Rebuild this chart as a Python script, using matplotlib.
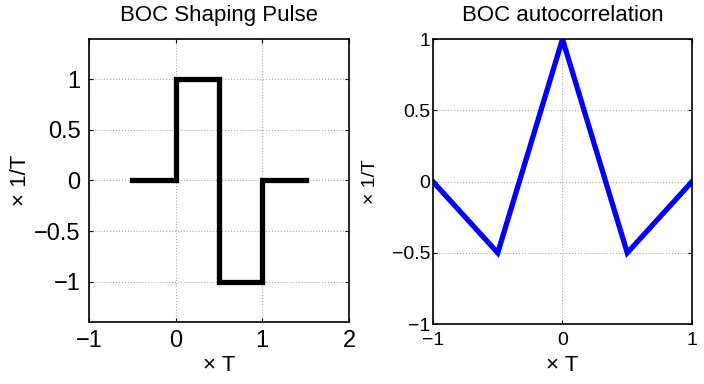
import numpy as np
import matplotlib
matplotlib.use("Agg")
import matplotlib.pyplot as plt

plt.rcParams["font.family"] = ["Liberation Sans", "DejaVu Sans"]

# BOC shaping pulse (step shape)
pulse_x = [-0.5, 0, 0, 0.5, 0.5, 1, 1, 1.5]
pulse_y = [0, 0, 1, 1, -1, -1, 0, 0]

# BOC autocorrelation
acf_x = [-1, -0.5, 0, 0.5, 1]
acf_y = [0, -0.5, 1, -0.5, 0]

left_xticks = [-1, 0, 1, 2]
left_yticks = [-1, -0.5, 0, 0.5, 1]
right_xticks = [-1, 0, 1]
right_yticks = [-1, -0.5, 0, 0.5, 1]


def fmt(v):
    s = f"{v:g}"
    return s.replace("-", "\u2212")


fig = plt.figure(figsize=(7.04, 3.84), dpi=100)

ax1 = fig.add_axes([0.1264, 0.1615, 0.3693, 0.737])
ax1.plot(pulse_x, pulse_y, color="black", linewidth=3.8, solid_joinstyle="miter")
ax1.set_xlim(-1, 2)
ax1.set_ylim(-1.4, 1.4)
ax1.set_xticks(left_xticks)
ax1.set_xticklabels([fmt(v) for v in left_xticks])
ax1.set_yticks(left_yticks)
ax1.set_yticklabels([fmt(v) for v in left_yticks])
ax1.tick_params(labelsize=17, direction="in", top=True, right=True, length=3, pad=6)
ax1.set_title("BOC Shaping Pulse", fontsize=16, pad=13)
ax1.set_xlabel("\u00d7 T", fontsize=16, labelpad=2)
ax1.set_ylabel("\u00d7 1/T", fontsize=16, labelpad=2)

ax2 = fig.add_axes([0.615, 0.156, 0.368, 0.742])
ax2.plot(acf_x, acf_y, color="#0000ff", linewidth=3.8, solid_joinstyle="miter")
ax2.set_xlim(-1, 1)
ax2.set_ylim(-1, 1)
ax2.set_xticks(right_xticks)
ax2.set_xticklabels([fmt(v) for v in right_xticks])
ax2.set_yticks(right_yticks)
ax2.set_yticklabels([fmt(v) for v in right_yticks])
ax2.tick_params(labelsize=14, direction="in", top=True, right=True, length=3)
ax2.tick_params(axis="x", pad=6)
ax2.tick_params(axis="y", pad=2)
ax2.set_title("BOC autocorrelation", fontsize=16, pad=13)
ax2.set_xlabel("\u00d7 T", fontsize=16, labelpad=4)
ax2.set_ylabel("\u00d7 1/T", fontsize=14, labelpad=9)

for ax in (ax1, ax2):
    ax.grid(True, linestyle=":", color="#aaaaaa", linewidth=0.8)
    for sp in ax.spines.values():
        sp.set_linewidth(1.2)
    ax.set_axisbelow(True)

fig.savefig("out.png", dpi=100)
